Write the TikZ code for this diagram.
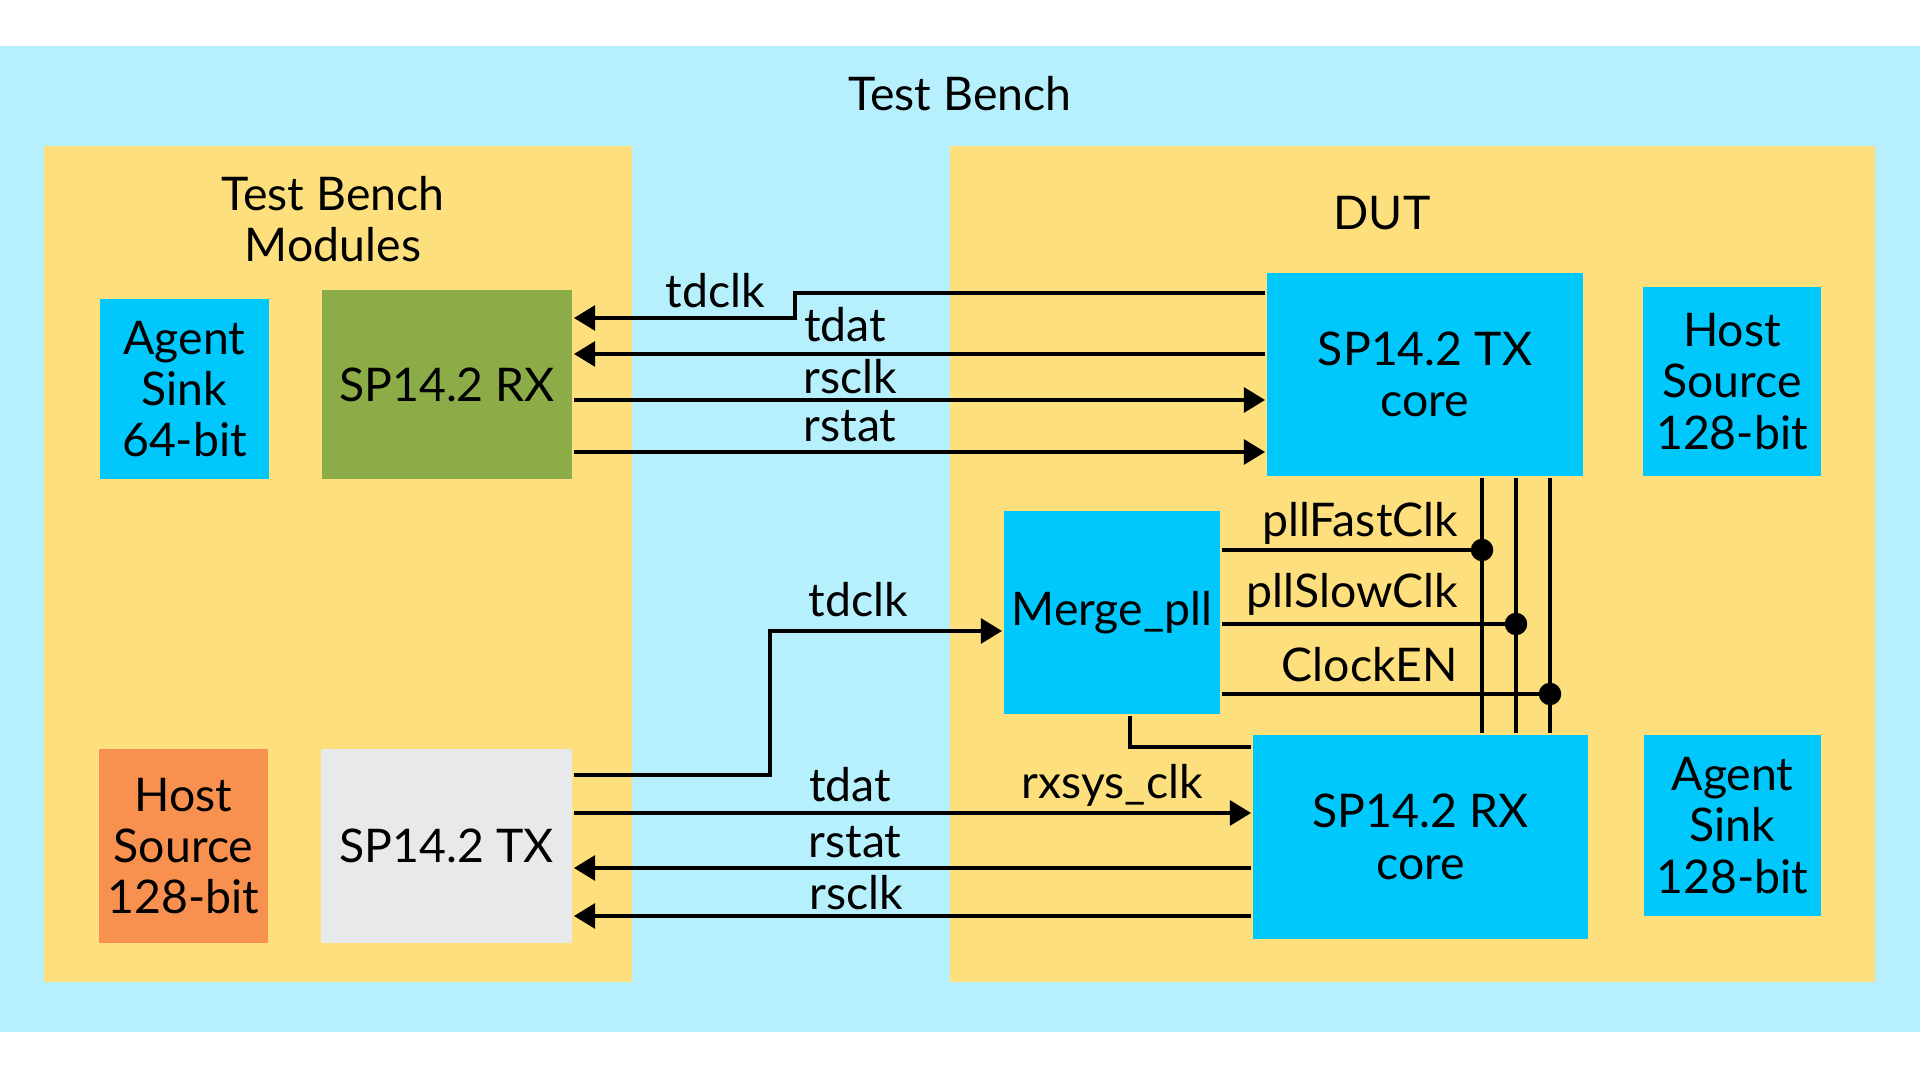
\documentclass[tikz,border=0pt]{standalone}
\usepackage{fontspec}
\setmainfont{Lato}
\usetikzlibrary{arrows.meta}
\definecolor{benchblue}{HTML}{B6F0FC}
\definecolor{panelyellow}{HTML}{FDE07D}
\definecolor{coreblue}{HTML}{00C8FC}
\definecolor{rxgreen}{HTML}{8BAC46}
\definecolor{hostorange}{HTML}{F8914F}
\definecolor{txgray}{HTML}{E8E9EA}

\begin{document}
\begin{tikzpicture}[line width=1.1pt, >={Triangle[length=6pt,width=7pt]},
    txt/.style={font=\fontsize{13.2}{14.6}\selectfont, inner sep=0pt},
    blk/.style={txt, align=center, minimum width=#1}]
    \useasboundingbox (0,0) rectangle (19.2,10.8);
    % Test Bench
    \fill[benchblue] (0,0.48) rectangle (19.2,10.335);
    \node[txt] (bench) at (9.6,9.86) {Test Bench};
    \fill[panelyellow] (0.44,0.98) rectangle (6.32,9.34);
    \fill[panelyellow] (9.50,0.98) rectangle (18.75,9.34);
    \node[txt, align=center] (tbmod) at (3.33,8.61) {Test Bench\\Modules};
    \node[txt] (dut) at (13.82,8.67) {DUT};
    % test bench modules
    \node[blk=1.69cm, fill=coreblue, minimum height=1.80cm] (agentl) at (1.845,6.91) {Agent\\Sink\\64-bit};
    \node[blk=2.50cm, fill=rxgreen, minimum height=1.89cm] (rxtb) at (4.47,6.955) {SP14.2 RX};
    \node[blk=1.69cm, fill=hostorange, minimum height=1.94cm] (hostl) at (1.835,2.34) {Host\\Source\\128-bit};
    \node[blk=2.51cm, fill=txgray, minimum height=1.94cm] (txtb) at (4.465,2.34) {SP14.2 TX};
    % DUT
    \node[blk=3.16cm, fill=coreblue, minimum height=2.03cm] (txcore) at (14.25,7.055) {SP14.2 TX\\core};
    \node[blk=1.78cm, fill=coreblue, minimum height=1.89cm] (hostr) at (17.32,6.985) {Host\\Source\\128-bit};
    \node[blk=2.16cm, fill=coreblue, minimum height=2.03cm] (merge) at (11.12,4.675) {Merge\_pll};
    \node[blk=3.35cm, fill=coreblue, minimum height=2.04cm] (rxcore) at (14.205,2.43) {SP14.2 RX\\core};
    \node[blk=1.77cm, fill=coreblue, minimum height=1.81cm] (agentr) at (17.325,2.545) {Agent\\Sink\\128-bit};
    % TX core -> RX
    \draw[->] (txcore.west |- 0,7.87) -| (7.95,7.62) -- (rxtb.east |- 0,7.62);
    \draw[->] (txcore.west |- 0,7.26) -- (rxtb.east |- 0,7.26);
    \draw[->] (rxtb.east |- 0,6.80) -- (txcore.west |- 0,6.80);
    \draw[->] (rxtb.east |- 0,6.28) -- (txcore.west |- 0,6.28);
    \node[txt] (tdclka) at (7.15,7.89) {tdclk};
    \node[txt] (tdata) at (8.45,7.55) {tdat};
    \node[txt] (rsclka) at (8.50,7.03) {rsclk};
    \node[txt] (rstata) at (8.50,6.54) {rstat};
    % clock bus
    \coordinate (fastdot) at (14.82,5.30);
    \coordinate (slowdot) at (15.16,4.56);
    \coordinate (endot) at (15.50,3.86);
    \foreach \d in {fastdot,slowdot,endot} {
        \draw (txcore.south -| \d) -- (rxcore.north -| \d);
        \draw (merge.east |- \d) -- (\d);
        \fill (\d) circle (3.2pt);
    }
    \node[txt, anchor=east] (fastlbl) at (14.60,5.57) {pllFastClk};
    \node[txt, anchor=east] (slowlbl) at (14.60,4.86) {pllSlowClk};
    \node[txt, anchor=east] (enlbl) at (14.60,4.15) {ClockEN};
    \draw (merge.south -| 11.30,0) |- (rxcore.west |- 0,3.33);
    % TX -> RX core
    \draw[->] (txtb.east |- 0,3.05) -| (7.70,4.49) -- (merge.west |- 0,4.49);
    \draw[->] (txtb.east |- 0,2.67) -- (rxcore.west |- 0,2.67);
    \draw[->] (rxcore.west |- 0,2.12) -- (txtb.east |- 0,2.12);
    \draw[->] (rxcore.west |- 0,1.64) -- (txtb.east |- 0,1.64);
    \node[txt] (tdclkb) at (8.58,4.80) {tdclk};
    \node[txt] (tdatb) at (8.50,2.95) {tdat};
    \node[txt] (rxsys) at (11.12,2.95) {rxsys\_clk};
    \node[txt] (rstatb) at (8.55,2.38) {rstat};
    \node[txt] (rsclkb) at (8.56,1.87) {rsclk};
\end{tikzpicture}
\end{document}
